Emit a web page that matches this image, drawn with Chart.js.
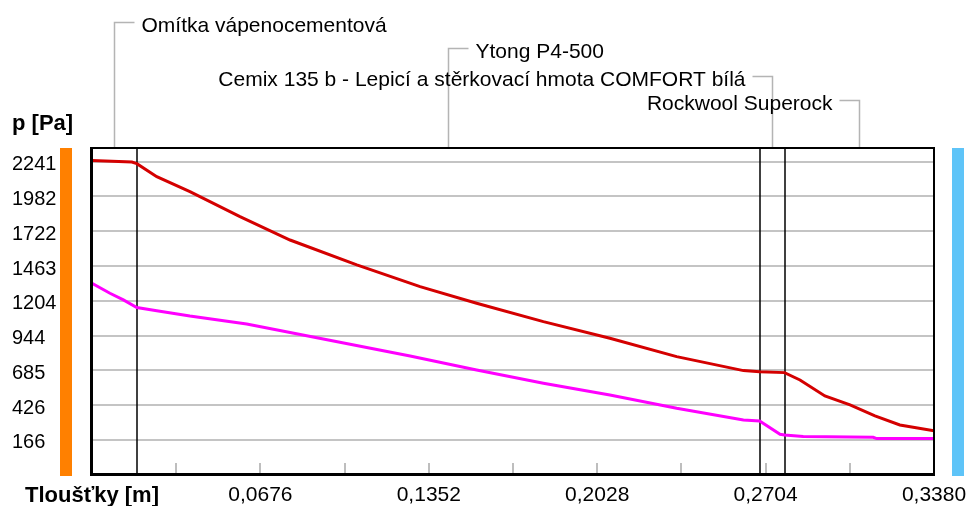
<!DOCTYPE html>
<html>
<head>
<meta charset="utf-8">
<title>Průběh tlaků vodní páry</title>
<script src="https://cdn.jsdelivr.net/npm/chart.js@4.4.1/dist/chart.umd.min.js"></script>
<style>
  html, body { margin: 0; padding: 0; background: #fff; }
  #wrap { width: 968px; height: 506px; }
</style>
</head>
<body>
<div id="wrap"><canvas id="chart" width="968" height="506"></canvas></div>
<script>
// vrstvy konstrukce (hranice v m)
const layerNames = ['Omítka vápenocementová', 'Ytong P4-500', 'Cemix 135 b - Lepicí a stěrkovací hmota COMFORT bílá', 'Rockwool Superock'];
const layerBounds = [0, 0.018, 0.268, 0.278, 0.338];

// tlak nasycené vodní páry (červená)
const psatX = [0, 0.016, 0.018, 0.026, 0.0393, 0.0594, 0.0795, 0.1063, 0.1317, 0.1544, 0.1812, 0.2079, 0.2347, 0.2615, 0.268, 0.278, 0.2842, 0.2942, 0.3043, 0.3143, 0.3243, 0.338];
const psatY = [2250, 2238, 2226, 2129, 2017, 1831, 1657, 1471, 1309, 1185, 1048, 924, 787, 683, 675, 668, 613, 494, 427, 345, 278, 235];

// částečný tlak vodní páry (fialová)
const pX = [0, 0.0072, 0.0126, 0.018, 0.026, 0.0393, 0.0621, 0.1277, 0.1544, 0.1812, 0.2079, 0.2347, 0.2615, 0.268, 0.2762, 0.278, 0.2855, 0.3136, 0.315, 0.338];
const pY = [1334, 1260, 1210, 1154, 1130, 1090, 1031, 792, 688, 589, 501, 402, 315, 308, 208, 203, 191, 186, 176, 176];

// osy
const yTicks = [166, 426, 685, 944, 1204, 1463, 1722, 1982, 2241];
const yMin = -88, yMax = 2343;
const xTicks = [0, 0.0338, 0.0676, 0.1014, 0.1352, 0.169, 0.2028, 0.2366, 0.2704, 0.3042, 0.338];
const xTickLabels = ['Tloušťky [m]', '', '0,0676', '', '0,1352', '', '0,2028', '', '0,2704', '', '0,3380'];

const FONT = "'Liberation Sans', Arial, sans-serif";
Chart.defaults.font.family = FONT;

const toPoints = (xs, ys) => xs.map((x, i) => ({ x: x, y: ys[i] }));

// popisky vrstev, rámeček, barevné pruhy
const decor = {
  id: 'decor',
  beforeDatasetsDraw(chart) {
    const { ctx, chartArea: a, scales: { x } } = chart;
    ctx.save();
    // malé značky na ose x
    ctx.strokeStyle = '#a8a8a8';
    ctx.lineWidth = 1.5;
    xTicks.forEach((v, i) => {
      if (i === 0 || i === xTicks.length - 1) return;
      const px = Math.round(x.getPixelForValue(v));
      ctx.beginPath();
      ctx.moveTo(px, a.bottom - 11);
      ctx.lineTo(px, a.bottom);
      ctx.stroke();
    });
    // hranice vrstev
    ctx.strokeStyle = '#000';
    ctx.lineWidth = 1.5;
    layerBounds.slice(1, -1).forEach(v => {
      const px = Math.round(x.getPixelForValue(v));
      ctx.beginPath();
      ctx.moveTo(px, a.top);
      ctx.lineTo(px, a.bottom);
      ctx.stroke();
    });
    ctx.restore();
  },
  afterDraw(chart) {
    const { ctx, chartArea: a, scales: { x } } = chart;
    ctx.save();
    // rámeček grafu
    ctx.fillStyle = '#000';
    ctx.fillRect(a.left - 1, a.top - 1, a.width + 2, 2);
    ctx.fillRect(a.right - 1, a.top - 1, 2, a.height + 2);
    ctx.fillRect(a.left - 2, a.top - 1, 3, a.height + 3);
    ctx.fillRect(a.left - 2, a.bottom - 1, a.width + 3, 3);

    // interiér / exteriér
    ctx.fillStyle = '#ff8000';
    ctx.fillRect(a.left - 32, a.top, 12, a.height + 2);
    ctx.fillStyle = '#5ec4f8';
    ctx.fillRect(a.right + 18, a.top, 12, a.height + 2);

    // popis osy y
    ctx.fillStyle = '#000';
    ctx.font = 'bold 22px ' + FONT;
    ctx.textAlign = 'left';
    ctx.textBaseline = 'alphabetic';
    ctx.fillText('p [Pa]', 12, 130);

    // názvy vrstev s vodícími čarami
    const rows = [22.5, 48.5, 76.5, 100.5];
    const sides = [1, 1, -1, -1];
    ctx.font = '21px ' + FONT;
    layerNames.forEach((name, i) => {
      const mid = Math.round(x.getPixelForValue((layerBounds[i] + layerBounds[i + 1]) / 2)) + 0.5;
      const y = rows[i];
      const end = mid + sides[i] * 20;
      ctx.strokeStyle = '#b4b4b4';
      ctx.lineWidth = 1.5;
      ctx.beginPath();
      ctx.moveTo(end, y);
      ctx.lineTo(mid, y);
      ctx.lineTo(mid, a.top - 1);
      ctx.stroke();
      ctx.fillStyle = '#000';
      ctx.textAlign = sides[i] > 0 ? 'left' : 'right';
      ctx.fillText(name, end + sides[i] * 7, y + 9);
    });
    ctx.restore();
  }
};

new Chart(document.getElementById('chart'), {
  type: 'line',
  data: {
    datasets: [{
      label: 'p sat',
      data: toPoints(psatX, psatY),
      borderColor: '#d40000',
      borderWidth: 3,
      pointRadius: 0,
      tension: 0
    }, {
      label: 'p',
      data: toPoints(pX, pY),
      borderColor: '#ff00ff',
      borderWidth: 3,
      pointRadius: 0,
      tension: 0
    }]
  },
  options: {
    responsive: false,
    devicePixelRatio: 1,
    animation: false,
    layout: { padding: { top: 148, left: 12, right: 34, bottom: 0 } },
    plugins: {
      legend: { display: false },
      tooltip: { enabled: false }
    },
    scales: {
      x: {
        type: 'linear',
        min: 0,
        max: 0.338,
        afterBuildTicks(scale) {
          scale.ticks = xTicks.map(v => ({ value: v }));
        },
        afterFit(scale) {
          scale.height = 32;
          scale.paddingLeft = 0;
          scale.paddingRight = 0;
        },
        grid: { display: false },
        border: { display: false },
        ticks: {
          autoSkip: false,
          maxRotation: 0,
          padding: 1,
          color: '#000',
          font: (c) => c.index === 0 ? { size: 22, weight: 'bold' } : { size: 21 },
          callback: (value, index) => xTickLabels[index]
        }
      },
      y: {
        min: yMin,
        max: yMax,
        afterBuildTicks(scale) {
          scale.ticks = yTicks.map(v => ({ value: v }));
        },
        afterFit(scale) {
          scale.width = 80;
          scale.paddingTop = 0;
          scale.paddingBottom = 0;
        },
        grid: { color: '#c4c4c4', lineWidth: 2, drawTicks: false },
        border: { display: false },
        ticks: {
          crossAlign: 'far',
          color: '#000',
          font: { size: 20 },
          labelOffset: 3,
          callback: (value) => String(value)
        }
      }
    }
  },
  plugins: [decor]
});
</script>
</body>
</html>
